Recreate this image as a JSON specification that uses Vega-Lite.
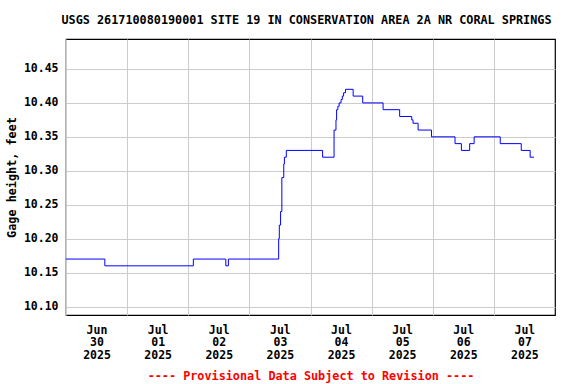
{
  "$schema": "https://vega.github.io/schema/vega-lite/v6.json",
  "width": 489,
  "height": 276,
  "autosize": {"type": "none"},
  "padding": {"left": 66, "top": 39, "right": 21, "bottom": 69},
  "background": "white",
  "title": {
    "text": "USGS 261710080190001 SITE 19 IN CONSERVATION AREA 2A NR CORAL SPRINGS",
    "font": "DejaVu Sans Mono",
    "fontWeight": "bold",
    "fontSize": 11.8,
    "color": "black",
    "anchor": "middle",
    "offset": 12,
    "dx": -4
  },
  "config": {
    "view": {"stroke": "black", "strokeWidth": 1.2},
    "axis": {
      "labelFont": "DejaVu Sans Mono",
      "labelFontWeight": "bold",
      "labelFontSize": 11.5,
      "labelColor": "black",
      "titleFont": "DejaVu Sans Mono",
      "titleFontWeight": "bold",
      "titleFontSize": 11.8,
      "gridColor": "#cccccc",
      "gridWidth": 1,
      "gridOpacity": 1,
      "domain": false,
      "ticks": false
    }
  },
  "data": {
    "values": [
      {"time": "2025-06-30T00:00:00", "gage": 10.17},
      {"time": "2025-06-30T15:15:00", "gage": 10.16},
      {"time": "2025-07-02T02:00:00", "gage": 10.17},
      {"time": "2025-07-02T14:45:00", "gage": 10.16},
      {"time": "2025-07-02T15:45:00", "gage": 10.17},
      {"time": "2025-07-03T11:30:00", "gage": 10.20},
      {"time": "2025-07-03T11:45:00", "gage": 10.22},
      {"time": "2025-07-03T12:15:00", "gage": 10.24},
      {"time": "2025-07-03T12:45:00", "gage": 10.29},
      {"time": "2025-07-03T13:30:00", "gage": 10.31},
      {"time": "2025-07-03T13:45:00", "gage": 10.32},
      {"time": "2025-07-03T14:30:00", "gage": 10.33},
      {"time": "2025-07-04T04:45:00", "gage": 10.32},
      {"time": "2025-07-04T09:15:00", "gage": 10.36},
      {"time": "2025-07-04T10:00:00", "gage": 10.375},
      {"time": "2025-07-04T10:15:00", "gage": 10.39},
      {"time": "2025-07-04T10:45:00", "gage": 10.395},
      {"time": "2025-07-04T11:15:00", "gage": 10.40},
      {"time": "2025-07-04T12:00:00", "gage": 10.405},
      {"time": "2025-07-04T12:30:00", "gage": 10.41},
      {"time": "2025-07-04T13:00:00", "gage": 10.415},
      {"time": "2025-07-04T13:45:00", "gage": 10.42},
      {"time": "2025-07-04T16:45:00", "gage": 10.41},
      {"time": "2025-07-04T20:30:00", "gage": 10.40},
      {"time": "2025-07-05T04:30:00", "gage": 10.39},
      {"time": "2025-07-05T11:00:00", "gage": 10.38},
      {"time": "2025-07-05T15:45:00", "gage": 10.375},
      {"time": "2025-07-05T16:15:00", "gage": 10.37},
      {"time": "2025-07-05T18:15:00", "gage": 10.36},
      {"time": "2025-07-05T23:30:00", "gage": 10.35},
      {"time": "2025-07-06T08:45:00", "gage": 10.34},
      {"time": "2025-07-06T11:15:00", "gage": 10.33},
      {"time": "2025-07-06T14:30:00", "gage": 10.34},
      {"time": "2025-07-06T16:15:00", "gage": 10.35},
      {"time": "2025-07-07T02:30:00", "gage": 10.34},
      {"time": "2025-07-07T10:45:00", "gage": 10.33},
      {"time": "2025-07-07T14:15:00", "gage": 10.32},
      {"time": "2025-07-07T15:45:00", "gage": 10.32}
    ]
  },
  "mark": {"type": "line", "interpolate": "step-after", "color": "#0000ff", "strokeWidth": 1},
  "encoding": {
    "x": {
      "field": "time",
      "type": "temporal",
      "scale": {
        "domain": [
          {"year": 2025, "month": "jun", "date": 30},
          {"year": 2025, "month": "jul", "date": 8}
        ]
      },
      "axis": {
        "values": [
          {"year": 2025, "month": "jun", "date": 30},
          {"year": 2025, "month": "jul", "date": 1},
          {"year": 2025, "month": "jul", "date": 2},
          {"year": 2025, "month": "jul", "date": 3},
          {"year": 2025, "month": "jul", "date": 4},
          {"year": 2025, "month": "jul", "date": 5},
          {"year": 2025, "month": "jul", "date": 6},
          {"year": 2025, "month": "jul", "date": 7}
        ],
        "labelExpr": "[timeFormat(datum.value, '%b'), timeFormat(datum.value, '%d'), timeFormat(datum.value, '%Y')]",
        "labelOffset": 30.5,
        "labelPadding": 9,
        "labelLineHeight": 12.5,
        "labelBaseline": "top",
        "labelFlush": false,
        "labelOverlap": false,
        "title": "---- Provisional Data Subject to Revision ----",
        "titleColor": "#ff0000",
        "titlePadding": 10
      }
    },
    "y": {
      "field": "gage",
      "type": "quantitative",
      "scale": {"domain": [10.0876, 10.4941], "nice": false, "zero": false},
      "axis": {
        "values": [10.10, 10.15, 10.20, 10.25, 10.30, 10.35, 10.40, 10.45],
        "format": ".2f",
        "labelPadding": 8,
        "title": "Gage height, feet",
        "titleColor": "black",
        "titlePadding": 6
      }
    }
  }
}
